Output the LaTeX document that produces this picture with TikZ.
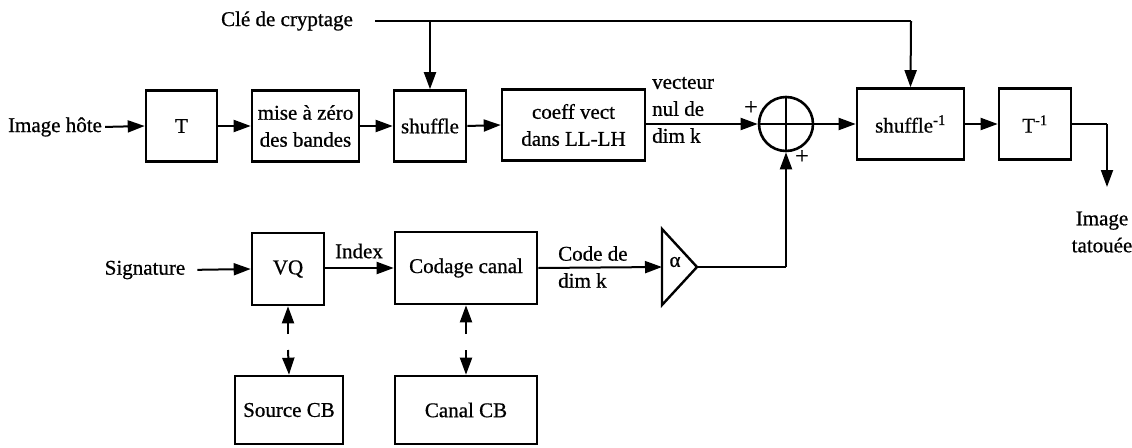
\documentclass[tikz,border=0pt]{standalone}
\usepackage{fontspec}
\setmainfont{Liberation Serif}[FakeBold=0.7]
\usetikzlibrary{arrows.meta,calc}
\begin{document}
\begin{tikzpicture}[x=1pt,y=-1pt,
  font=\fontsize{21}{27}\selectfont,
  blk/.style={draw,line width=2.6pt,minimum height=71pt,inner sep=2pt},
  conn/.style={line width=2pt,-{Triangle[length=17pt,width=12pt]}},
  plain/.style={line width=2pt},
  lbl/.style={inner sep=0pt},
  sign/.style={inner sep=0pt,font=\fontsize{24}{26}\selectfont}
]
\useasboundingbox (0,0) rectangle (1132,447);

% top row
\node[lbl] (host) at (55,127) {Image hôte};
\node[blk,minimum width=71pt] (T) at (181.5,126) {T};
\node[blk,minimum width=107pt,align=center] (mise) at (305.5,126) {mise à zéro\\des bandes};
\node[blk,minimum width=72pt] (shuf) at (430,126) {shuffle};
\node[blk,minimum width=143pt,align=center] (coeff) at (573.5,125) {coeff vect\\dans LL-LH};
\node[draw,circle,line width=2.6pt,minimum size=54pt,inner sep=0pt,
  path picture={\draw[line width=2pt] (path picture bounding box.north) -- (path picture bounding box.south)
  (path picture bounding box.west) -- (path picture bounding box.east);}] (sum) at (786,124) {};
\node[blk,minimum width=107pt] (shinv) at (910.5,124) {shuffle\textsuperscript{-1}};
\node[blk,minimum width=72pt] (Tinv) at (1035,124) {T\textsuperscript{-1}};
\node[lbl,align=center] (out) at (1102,232) {Image\\tatouée};
\coordinate (outc) at (1107,124);
\coordinate (outend) at (1107,187);

% key
\node[lbl] (key) at (287,21) {Clé de cryptage};
\coordinate (k0) at (375,21);
\coordinate (k1) at (911,21);

% labels
\node[lbl,anchor=west,align=left] (vec) at (652,110) {vecteur\\nul de\\dim k};
\node[sign] (p1) at (751,108) {+};
\node[sign] (p2) at (802,157) {+};

% bottom row
\node[lbl] (sig) at (145,270) {Signature};
\node[blk,minimum width=72pt,minimum height=72pt] (vq) at (288,269) {VQ};
\node[blk,minimum width=142pt,minimum height=72pt] (cod) at (466,268) {Codage canal};
\node[blk,minimum width=108pt,minimum height=68pt] (scb) at (289,410) {Source CB};
\node[blk,minimum width=142pt,minimum height=68pt] (ccb) at (466,410) {Canal CB};
\node[lbl] (idx) at (359,251) {Index};
\node[lbl,anchor=west,align=left] (code) at (558,267) {Code de\\dim k};

% amplifier triangle
\coordinate (ampin) at (662,267);
\coordinate (ampout) at (697,267);
\draw[line width=2.4pt,line join=miter] (662,229) -- (ampout) -- (662,305) -- cycle;
\node[lbl] (alpha) at (675,262) {α};
\coordinate (upc) at (786,267);

% connectors
\draw[conn,shorten <=3pt] (host.east) -- (T.west);
\draw[conn] (T.east) -- (mise.west);
\draw[conn] (mise.east) -- (shuf.west);
\draw[conn] (shuf.east) -- (coeff.west);
\draw[conn] (coeff.east |- sum.west) -- (sum.west);
\draw[conn] (sum.east) -- (shinv.west);
\draw[conn] (shinv.east) -- (Tinv.west);
\draw[plain] (Tinv.east) -- (outc);
\draw[conn] (outc) -- (outend);

\draw[plain] (k0) -- (k1);
\draw[conn] (k1) -- (shinv.north);
\draw[conn] (shuf.north |- k0) -- (shuf.north);

\draw[conn,shorten <=12pt] (sig.east) -- (vq.west);
\draw[conn] (vq.east |- cod.west) -- (cod.west);
\draw[conn] (cod.east) -- (ampin);
\draw[plain] (ampout) -- (upc);
\draw[conn] (upc) -- (sum.south);

\coordinate (vqa) at (288,334);
\coordinate (vqb) at (288,350);
\coordinate (coa) at (466,334);
\coordinate (cob) at (466,350);
\draw[conn] (vqa) -- (vq.south);
\draw[conn] (vqb) -- (scb.north);
\draw[conn] (coa) -- (cod.south);
\draw[conn] (cob) -- (ccb.north);
\end{tikzpicture}
\end{document}
